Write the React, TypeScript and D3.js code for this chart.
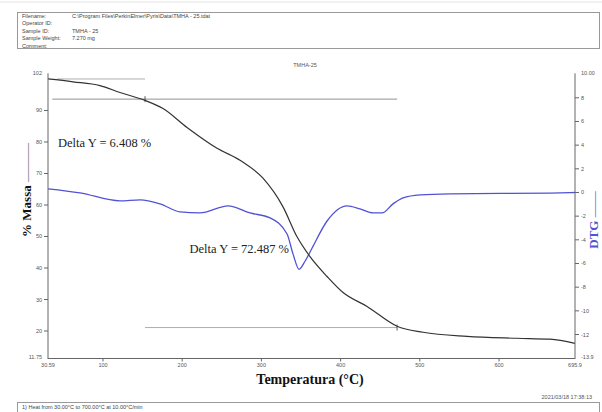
import React from "react";
import * as d3 from "d3";

// header info
const headerLabels = ["Filename:", "Operator ID:", "Sample ID:", "Sample Weight:", "Comment:"];
const headerValues = ["C:\\Program Files\\PerkinElmer\\Pyris\\Data\\TMHA - 25.tdat", "", "TMHA - 25", "7.270 mg", ""];

// mass curve (temperature °C, % mass)
const massTemp = [30.6, 62.2, 96.3, 121.5, 153.1, 175.8, 206.1, 244.0, 273.0, 302.0, 327.3, 345.0, 361.4, 382.9, 403.1, 433.4, 471.3, 504.1, 559.6, 622.8, 664.4, 695.9];
const massValue = [100.0, 99.1, 97.9, 95.7, 93.2, 90.6, 84.6, 78.0, 74.2, 68.5, 59.4, 49.9, 43.6, 37.3, 32.2, 27.8, 21.5, 19.6, 18.3, 17.7, 17.4, 16.1];

// DTG curve
const dtgTemp = [30.6, 71.0, 121.5, 146.8, 172.0, 197.3, 222.5, 257.9, 285.6, 310.9, 332.4, 340.0, 347.5, 355.1, 363.9, 382.9, 408.1, 424.5, 441.0, 452.3, 466.2, 478.8, 500.3, 538.2, 664.4, 695.9];
const dtgValue = [0.31, -0.03, -0.71, -0.62, -0.96, -1.64, -1.73, -1.13, -1.73, -2.15, -3.51, -5.21, -6.49, -5.81, -4.71, -2.41, -1.13, -1.39, -1.73, -1.73, -0.96, -0.45, -0.2, -0.11, -0.05, 0.0];

// axes
const tempDomain = [30.6, 695.9];
const tempTicks = [100, 200, 300, 400, 500, 600];
const tempEndLabels = ["30.59", "695.9"];
const massDomain = [11.75, 101.8];
const massTicks = [20, 30, 40, 50, 60, 70, 80, 90];
const massEndLabels = ["11.75", "102"];
const dtgDomain = [-13.9, 10.07];
const dtgTicks = [-12, -10, -8, -6, -4, -2, 0, 2, 4, 6, 8];
const dtgEndLabels = ["-13.9", "10.00"];

// delta Y step annotations
const stepLevels = [100.0, 93.6, 21.1];
const stepTemps = [36, 153.1, 471.3];
const stepLabels = ["Delta Y = 6.408 %", "Delta Y = 72.487 %"];

const W = 602;
const H = 412;
const left = 48;
const right = 575;
const top = 73.3;
const bottom = 357;

export default function App() {
  const x = d3.scaleLinear().domain(tempDomain).range([left, right]);
  const yM = d3.scaleLinear().domain(massDomain).range([bottom, top]);
  const yD = d3.scaleLinear().domain(dtgDomain).range([bottom, top]);

  const massLine = d3
    .line<number>()
    .x((_, i) => x(massTemp[i]))
    .y((d) => yM(d))
    .curve(d3.curveMonotoneX);
  const dtgLine = d3
    .line<number>()
    .x((_, i) => x(dtgTemp[i]))
    .y((d) => yD(d))
    .curve(d3.curveMonotoneX);

  const tickFont = { fontFamily: "Liberation Sans, Arial, sans-serif", fontSize: 5.5, fill: "#555" };
  const serif = "Liberation Serif, Times New Roman, serif";
  const axisColor = "#666";
  const blue = "#5252d6";

  return (
    <svg width={W} height={H} style={{ position: "absolute", left: 0, top: 0, background: "#fff" }}>
      <line x1={0} x2={W} y1={2} y2={2} stroke="#e4e4e4" strokeWidth={1} />
      {/* header box */}
      <rect x={17.5} y={12.5} width={582} height={36} fill="none" stroke="#999" strokeWidth={1} />
      {headerLabels.map((l, i) => (
        <g key={l}>
          <text x={22} y={17.5 + i * 7.5} {...tickFont} fill="#444">{l}</text>
          <text x={72} y={17.5 + i * 7.5} {...tickFont} fill="#444">{headerValues[i]}</text>
        </g>
      ))}

      {/* title */}
      <text x={305} y={67} textAnchor="middle" {...tickFont}>TMHA-25</text>

      {/* step lines */}
      <line x1={x(stepTemps[0]) + 5} x2={x(stepTemps[1])} y1={yM(stepLevels[0])} y2={yM(stepLevels[0])} stroke="#999" strokeWidth={0.8} />
      <line x1={x(stepTemps[0])} x2={x(stepTemps[2])} y1={yM(stepLevels[1])} y2={yM(stepLevels[1])} stroke="#777" strokeWidth={0.8} />
      <line x1={x(stepTemps[1])} x2={x(stepTemps[2])} y1={yM(stepLevels[2])} y2={yM(stepLevels[2])} stroke="#999" strokeWidth={0.8} />
      <line x1={x(stepTemps[1])} x2={x(stepTemps[1])} y1={yM(stepLevels[1]) - 3} y2={yM(stepLevels[1]) + 3} stroke="#333" strokeWidth={0.8} />
      <line x1={x(stepTemps[2])} x2={x(stepTemps[2])} y1={yM(stepLevels[2]) - 3} y2={yM(stepLevels[2]) + 3} stroke="#333" strokeWidth={0.8} />

      {/* curves */}
      <path d={dtgLine(dtgValue) || ""} fill="none" stroke={blue} strokeWidth={1.3} />
      <path d={massLine(massValue) || ""} fill="none" stroke="#333" strokeWidth={1.2} />

      {/* annotations */}
      <text x={58} y={147} fontFamily={serif} fontSize={12.5} fill="#222">{stepLabels[0]}</text>
      <text x={289} y={253} textAnchor="end" fontFamily={serif} fontSize={12.5} fill="#222">{stepLabels[1]}</text>

      {/* axes */}
      <line x1={left} x2={left} y1={top} y2={bottom + 2} stroke={axisColor} />
      <line x1={right} x2={right} y1={top} y2={bottom + 2} stroke={axisColor} />
      <line x1={left} x2={right} y1={bottom + 1.5} y2={bottom + 1.5} stroke={axisColor} />

      {massTicks.map((t) => (
        <g key={"m" + t}>
          <line x1={left - 4} x2={left} y1={yM(t)} y2={yM(t)} stroke={axisColor} />
          <text x={left - 6} y={yM(t) + 2} textAnchor="end" {...tickFont}>{t}</text>
        </g>
      ))}
      {massDomain.map((t, i) => (
        <text key={"me" + i} x={left - 6} y={yM(t) + 2} textAnchor="end" {...tickFont}>{massEndLabels[i]}</text>
      ))}

      {dtgTicks.map((t) => (
        <g key={"d" + t}>
          <line x1={right} x2={right + 4} y1={yD(t)} y2={yD(t)} stroke={axisColor} />
          <text x={right + 6} y={yD(t) + 2} {...tickFont}>{t}</text>
        </g>
      ))}
      {dtgDomain.map((t, i) => (
        <text key={"de" + i} x={right + 6} y={yD(t) + 2} {...tickFont}>{dtgEndLabels[i]}</text>
      ))}

      {tempTicks.map((t) => (
        <g key={"t" + t}>
          <line x1={x(t)} x2={x(t)} y1={bottom + 1.5} y2={bottom + 4.5} stroke={axisColor} />
          <text x={x(t)} y={bottom + 10} textAnchor="middle" {...tickFont}>{t}</text>
        </g>
      ))}
      {tempDomain.map((t, i) => (
        <text key={"te" + i} x={x(t)} y={bottom + 10} textAnchor="middle" {...tickFont}>{tempEndLabels[i]}</text>
      ))}

      {/* axis titles */}
      <text x={310} y={384} textAnchor="middle" fontFamily={serif} fontWeight="bold" fontSize={14} fill="#111">
        Temperatura (°C)
      </text>
      <g transform="translate(31,190) rotate(-90)">
        <text textAnchor="middle" fontFamily={serif} fontWeight="bold" fontSize={13} fill="#111">
          % Massa <tspan fontWeight="normal" fill="#666">———</tspan>
        </text>
      </g>
      <g transform="translate(598,220) rotate(-90)">
        <text textAnchor="middle" fontFamily={serif} fontWeight="bold" fontSize={13} fill={blue}>
          DTG <tspan fontWeight="normal">——</tspan>
        </text>
      </g>

      {/* footer */}
      <text x={592} y={399} textAnchor="end" {...tickFont}>2021/03/18 17:38:13</text>
      <rect x={17.5} y={402.5} width={582} height={14} fill="none" stroke="#999" strokeWidth={1} />
      <text x={22} y={409} {...tickFont} fill="#444">1) Heat from 30.00°C to 700.00°C at 10.00°C/min</text>
    </svg>
  );
}
